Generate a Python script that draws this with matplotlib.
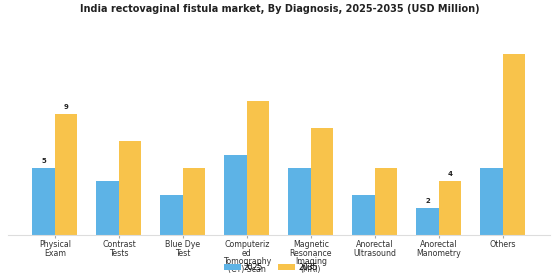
import matplotlib
matplotlib.use("Agg")
import matplotlib.pyplot as plt
import numpy as np

categories = ["Physical\nExam", "Contrast\nTests", "Blue Dye\nTest",
              "Computeriz\ned\nTomography\n(CT) Scan", "Magnetic\nResonance\nImaging\n(MRI)",
              "Anorectal\nUltrasound", "Anorectal\nManometry", "Others"]
values_2025 = [5, 4, 3, 6, 5, 3, 2, 5]
values_2035 = [9, 7, 5, 10, 8, 5, 4, 13.5]
series_names = ["2025", "2035"]
labeled_idx = [0, 6]

c1, c2 = "#5DB3E6", "#F8C34B"

fig = plt.figure(figsize=(5.6, 2.8), dpi=100)
ax = fig.add_axes([0.014, 0.161, 0.968, 0.678])
x = np.arange(len(categories))
w = 0.35
ax.bar(x - w/2, values_2025, w, color=c1, label=series_names[0])
ax.bar(x + w/2, values_2035, w, color=c2, label=series_names[1])

for i in labeled_idx:
    ax.text(x[i] - w/2, values_2025[i] + 0.3, f"{values_2025[i]:g}", ha="center", va="bottom",
            fontsize=5, fontweight="bold", color="#222222")
    ax.text(x[i] + w/2, values_2035[i] + 0.3, f"{values_2035[i]:g}", ha="center", va="bottom",
            fontsize=5, fontweight="bold", color="#222222")

ax.set_xticks(x)
ax.set_xticklabels(categories, fontsize=5.7, color="#333333", linespacing=0.9)
ax.tick_params(axis="x", length=2, color="#aaaaaa", pad=2)
ax.set_yticks([])
for s in ["top", "right", "left"]:
    ax.spines[s].set_visible(False)
ax.spines["bottom"].set_color("#dddddd")

fig.suptitle("India rectovaginal fistula market, By Diagnosis, 2025-2035 (USD Million)",
             fontsize=7, fontweight="bold", x=0.5, y=0.985, color="#222222")

ax.legend(loc="center", bbox_to_anchor=(0.485, -0.17), ncol=2, frameon=False, fontsize=5.5,
          handlelength=2.2, handleheight=0.7, columnspacing=2.0, handletextpad=0.4)

fig.savefig("out.png", dpi=100)
